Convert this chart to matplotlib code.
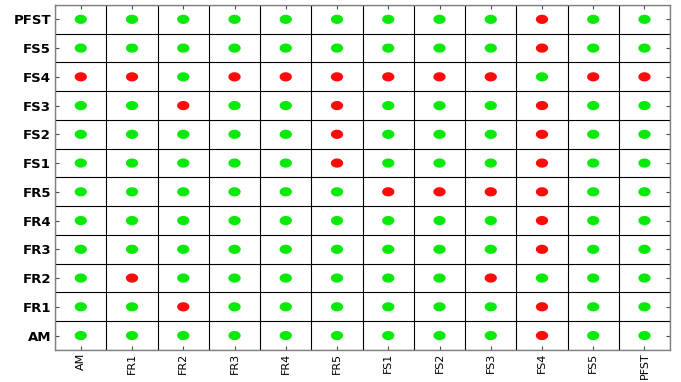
import numpy as np
import matplotlib.pyplot as plt
from matplotlib.path import Path

labels = ["AM", "FR1", "FR2", "FR3", "FR4", "FR5", "FS1", "FS2", "FS3", "FS4", "FS5", "PFST"]

# 1 = red (fail), 0 = green; rows listed top (PFST) to bottom (AM)
status_top_down = [
    [0, 0, 0, 0, 0, 0, 0, 0, 0, 1, 0, 0],  # PFST
    [0, 0, 0, 0, 0, 0, 0, 0, 0, 1, 0, 0],  # FS5
    [1, 1, 0, 1, 1, 1, 1, 1, 1, 0, 1, 1],  # FS4
    [0, 0, 1, 0, 0, 1, 0, 0, 0, 1, 0, 0],  # FS3
    [0, 0, 0, 0, 0, 1, 0, 0, 0, 1, 0, 0],  # FS2
    [0, 0, 0, 0, 0, 1, 0, 0, 0, 1, 0, 0],  # FS1
    [0, 0, 0, 0, 0, 0, 1, 1, 1, 1, 0, 0],  # FR5
    [0, 0, 0, 0, 0, 0, 0, 0, 0, 1, 0, 0],  # FR4
    [0, 0, 0, 0, 0, 0, 0, 0, 0, 1, 0, 0],  # FR3
    [0, 1, 0, 0, 0, 0, 0, 0, 1, 0, 0, 0],  # FR2
    [0, 0, 1, 0, 0, 0, 0, 0, 0, 1, 0, 0],  # FR1
    [0, 0, 0, 0, 0, 0, 0, 0, 0, 1, 0, 0],  # AM
]

status = np.array(status_top_down)[::-1]  # row 0 = AM at bottom
n = len(labels)

# flattened ellipse marker
t = np.linspace(0, 2 * np.pi, 60)
ellipse = Path(np.column_stack([np.cos(t), 0.75 * np.sin(t)]), closed=True)

fig = plt.figure(figsize=(6.81, 3.82), dpi=100)
ax = fig.add_axes([0.081, 0.084, 0.903, 0.903])

yy, xx = np.mgrid[0:n, 0:n]
colors = np.where(status.ravel() == 1, "#ff0a0a", "#0aea0a")
ax.scatter(xx.ravel(), yy.ravel(), s=78, c=colors, marker=ellipse, linewidths=0, zorder=3)

ax.set_xlim(-0.5, n - 0.5)
ax.set_ylim(-0.5, n - 0.5)
ax.set_xticks(range(n))
ax.set_yticks(range(n))
ax.set_xticklabels(labels, rotation=90, fontsize=8)
ax.set_yticklabels(labels, fontsize=9.5, fontweight="bold")
ax.set_xticks(np.arange(-0.5, n, 1), minor=True)
ax.set_yticks(np.arange(-0.5, n, 1), minor=True)
ax.grid(which="minor", color="black", linewidth=0.8)
ax.tick_params(which="minor", length=0)
ax.tick_params(which="major", direction="in", length=3, top=True, right=True,
               color="0.3", pad=3)
ax.tick_params(axis="x", which="major", pad=2)
for sp in ax.spines.values():
    sp.set_color("0.5")
    sp.set_linewidth(1.0)

fig.savefig("out.png", dpi=100)
